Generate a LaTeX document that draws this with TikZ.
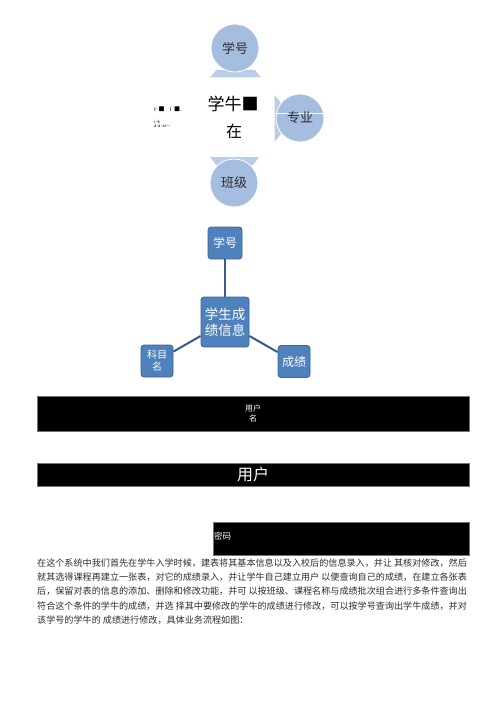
\documentclass[tikz,border=0pt]{standalone}
\usepackage{fontspec}
\usetikzlibrary{calc}
\setmainfont{Noto Sans CJK SC}
\definecolor{circfill}{RGB}{165,189,222}
\definecolor{tabfill}{RGB}{186,205,231}
\definecolor{txtdark}{RGB}{45,45,45}
\definecolor{boxblue}{RGB}{79,129,189}
\definecolor{boxedge}{RGB}{60,100,150}
\definecolor{linkblue}{RGB}{56,93,138}
\tikzset{
  circ/.style={circle, fill=circfill, draw=white, line width=0.8bp, minimum size=48bp, inner sep=0pt, text=txtdark, font=\fontsize{13bp}{15bp}\selectfont},
  tabshape/.style={fill=tabfill, draw=none},
  bbox/.style={rectangle, rounded corners=3bp, fill=boxblue, draw=boxedge, line width=0.8bp, text=white, inner sep=0pt, align=center},
  link/.style={draw=linkblue, line width=2bp},
  bar/.style={rectangle, fill=black, draw=black!55, line width=0.6bp, inner sep=0pt, text=white, align=center},
  para/.style={anchor=west, inner sep=0pt, text=txtdark, font=\fontsize{9.1bp}{11bp}\selectfont}
}
\begin{document}
\begin{tikzpicture}[x=1bp,y=-1bp]
\useasboundingbox[fill=white] (0,0) rectangle (500,721);

% ---------- top radial diagram ----------
\fill[tabshape] (210,77.5) -- (261,77.5) -- (255,70) -- (216,70) -- cycle;
\node[circ] (xh1) at (235,48) {学号};

\fill[tabshape] (210,157) -- (259,157) -- (253,165) -- (216,165) -- cycle;
\node[circ] (bj) at (234,183) {班级};

\fill[tabshape] (274.5,95) -- (281,103) -- (281,134) -- (274.5,142) -- cycle;
\node[circ] (zy) at (300,118) {};
\coordinate (zyl) at ($(zy.west)+(0,-5)$);
\coordinate (zyr) at ($(zy.east)+(0,-5)$);
\draw[white, line width=0.8bp] (zyl) -- (zyr);
\node[text=txtdark, font=\fontsize{13bp}{15bp}\selectfont, inner sep=0pt] (zyt) at (300,118) {专业};

\node[inner sep=0pt, text=black, font=\fontsize{17bp}{19bp}\selectfont] (cen1) at (233,104) {学牛■};
\node[inner sep=0pt, text=black, font=\fontsize{16bp}{18bp}\selectfont] (cen2) at (234,131) {在};

\node[anchor=west, inner sep=0pt, text=black, font=\fontsize{6bp}{7bp}\selectfont] (junk1) at (154,109) {r\hspace{2bp}■\hspace{5bp}i\hspace{3bp}■.};
\node[anchor=west, inner sep=0pt, text=black, align=left, font=\fontsize{4.2bp}{4bp}\selectfont] (junk2) at (154,123.5) {i−k\\a-a\hspace{2bp}ar—};

% ---------- student score diagram ----------
\node[bbox, minimum width=34bp, minimum height=32bp, font=\fontsize{12bp}{14bp}\selectfont] (xh2) at (225,243) {学号};
\node[bbox, minimum width=48bp, minimum height=50bp, font=\fontsize{13.5bp}{16bp}\selectfont] (info) at (225,322) {学生成\\绩信息};
\node[bbox, minimum width=32bp, minimum height=32bp, font=\fontsize{10bp}{12bp}\selectfont] (km) at (157,361) {科目\\名};
\node[bbox, minimum width=32bp, minimum height=32bp, font=\fontsize{12bp}{14bp}\selectfont] (cj) at (294,361.5) {成绩};
\draw[link] (xh2) -- (info);
\draw[link] (info) -- (km);
\draw[link] (info) -- (cj);

% ---------- black bars ----------
\node[bar, minimum width=432bp, minimum height=35bp, font=\fontsize{8bp}{9.5bp}\selectfont] (yhm) at (253,413.5) {用户\\名};
\node[bar, minimum width=432bp, minimum height=23bp, font=\fontsize{16bp}{18bp}\selectfont] (yh) at (253,474.5) {用户};
\node[bar, minimum width=256bp, minimum height=33bp] (mmbar) at (341,538.5) {};
\node[anchor=west, inner sep=0pt, text=white, font=\fontsize{8.5bp}{10bp}\selectfont] (mm) at (214,536) {密码};

% ---------- paragraph ----------
\node[para] (p1) at (37,563) {在这个系统中我们首先在学牛入学时候，建表将其基本信息以及入校后的信息录入，并让 其核对修改，然后};
\node[para] (p2) at (37,577.3) {就其选得课程再建立一张表，对它的成绩录入，并让学牛自己建立用户 以便查询自己的成绩，在建立各张表};
\node[para] (p3) at (37,591.6) {后，保留对表的信息的添加、删除和修改功能，并可 以按班级、课程名称与成绩批次组合进行多条件查询出};
\node[para] (p4) at (37,605.9) {符合这个条件的学牛的成绩，并选 择其中要修改的学牛的成绩进行修改，可以按学号查询出学牛成绩，并对};
\node[para] (p5) at (37,620.2) {该学号的学牛的 成绩进行修改，具体业务流程如图：};
\end{tikzpicture}
\end{document}
